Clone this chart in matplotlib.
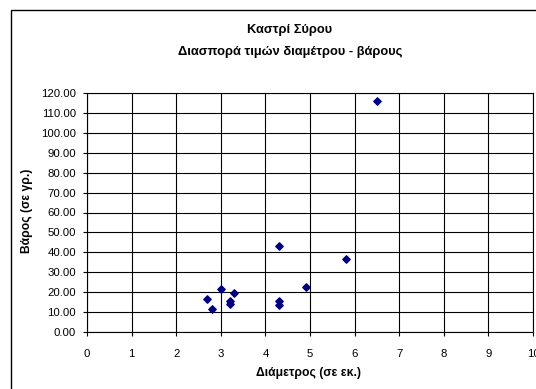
import matplotlib
matplotlib.use('Agg')
import matplotlib.pyplot as plt
from matplotlib.patches import Rectangle

plt.rcParams['font.family'] = ['Liberation Sans', 'DejaVu Sans']

# diameter (cm) and weight (g)
diameter = [6.5, 4.3, 5.8, 4.9, 3.0, 3.3, 2.7, 2.8, 3.2, 3.2, 4.3, 4.3]
weight = [116.0, 43.0, 36.7, 22.4, 21.4, 19.4, 16.6, 11.7, 15.8, 14.1, 15.8, 13.6]

x_ticks = list(range(0, 11))
y_ticks = list(range(0, 121, 10))

fig = plt.figure(figsize=(5.36, 3.89), dpi=100)
fig.patch.set_facecolor('white')

# chart area border
fig.patches.append(Rectangle((11 / 536, -0.05), 1.0, (389 - 10) / 389 + 0.05,
                             transform=fig.transFigure, fill=False,
                             edgecolor='black', linewidth=1.0))

ax = fig.add_axes([87 / 536, 57 / 389, 446 / 536, 239 / 389])
ax.scatter(diameter, weight, marker='D', s=14, color='#000080', zorder=3)

ax.set_xlim(0, 10)
ax.set_ylim(0, 120)
ax.set_xticks(x_ticks)
ax.set_yticks(y_ticks)
ax.set_xticklabels([str(v) for v in x_ticks], fontsize=8.2)
ax.set_yticklabels(['%.2f' % v for v in y_ticks], fontsize=8.2)
ax.tick_params(direction='out', length=3, width=0.8, colors='black', pad=5)
ax.tick_params(axis='x', pad=9)
ax.grid(True, color='black', linewidth=0.8)
ax.set_axisbelow(True)
for s in ax.spines.values():
    s.set_linewidth(0.8)
    s.set_color('black')

ax.set_xlabel('Διάμετρος (σε εκ.)', fontsize=8.7, fontweight='bold')
ax.set_ylabel('Βάρος (σε γρ.)', fontsize=8.7, fontweight='bold')
ax.yaxis.set_label_coords(-0.121, 0.506)
ax.xaxis.set_label_coords(0.497, -0.148)

fig.text(290 / 536, 1 - 30 / 389, 'Καστρί Σύρου', ha='center', va='center',
         fontsize=9.3, fontweight='bold')
fig.text(290 / 536, 1 - 52 / 389, 'Διασπορά τιμών διαμέτρου - βάρους', ha='center',
         va='center', fontsize=9.3, fontweight='bold')

fig.savefig('out.png', dpi=100)
